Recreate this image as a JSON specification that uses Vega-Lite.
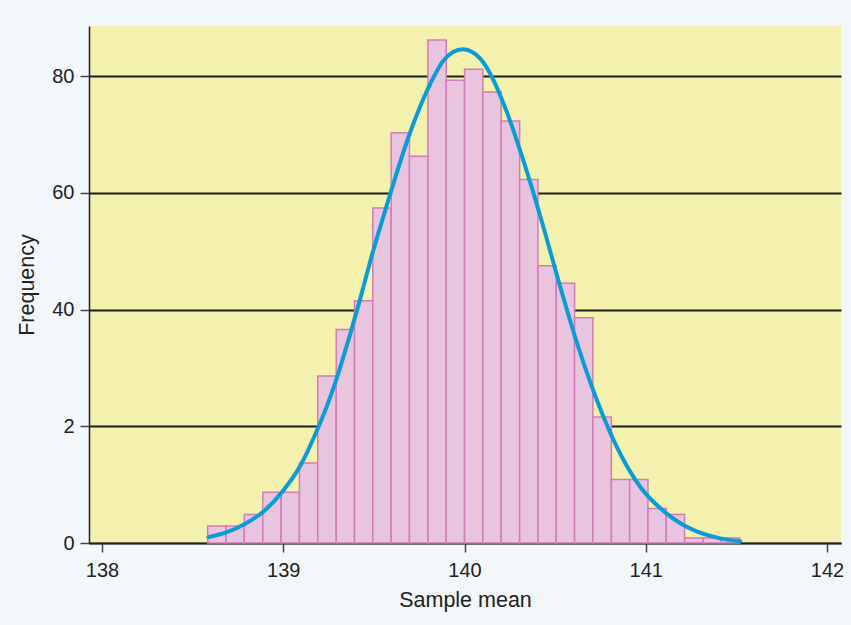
{
  "$schema": "https://vega.github.io/schema/vega-lite/v6.json",
  "autosize": "none",
  "width": 752,
  "height": 517,
  "padding": {"left": 89, "top": 26, "right": 10, "bottom": 82},
  "background": "#f2f7fc",
  "config": {
    "view": {"fill": "#f3f1ad", "stroke": null},
    "font": "Liberation Sans",
    "axis": {
      "labelFont": "Liberation Sans",
      "titleFont": "Liberation Sans",
      "labelFontSize": 20,
      "titleFontSize": 21.5,
      "titleFontWeight": "normal",
      "labelColor": "#222222",
      "titleColor": "#222222",
      "domainColor": "#222222",
      "domainWidth": 1.5,
      "tickColor": "#444444",
      "tickWidth": 1.5,
      "tickSize": 9
    }
  },
  "datasets": {
    "bins": [
      {"x0": 138.583, "x1": 138.684, "count": 2.9},
      {"x0": 138.684, "x1": 138.785, "count": 2.9},
      {"x0": 138.785, "x1": 138.887, "count": 4.9},
      {"x0": 138.887, "x1": 138.988, "count": 8.7},
      {"x0": 138.988, "x1": 139.089, "count": 8.7},
      {"x0": 139.089, "x1": 139.190, "count": 13.7},
      {"x0": 139.190, "x1": 139.292, "count": 28.6},
      {"x0": 139.292, "x1": 139.393, "count": 36.6},
      {"x0": 139.393, "x1": 139.494, "count": 41.5},
      {"x0": 139.494, "x1": 139.595, "count": 57.4},
      {"x0": 139.595, "x1": 139.696, "count": 70.3},
      {"x0": 139.696, "x1": 139.798, "count": 66.3},
      {"x0": 139.798, "x1": 139.899, "count": 86.2},
      {"x0": 139.899, "x1": 140.000, "count": 79.3},
      {"x0": 140.000, "x1": 140.101, "count": 81.2},
      {"x0": 140.101, "x1": 140.202, "count": 77.3},
      {"x0": 140.202, "x1": 140.304, "count": 72.3},
      {"x0": 140.304, "x1": 140.405, "count": 62.3},
      {"x0": 140.405, "x1": 140.506, "count": 47.5},
      {"x0": 140.506, "x1": 140.607, "count": 44.5},
      {"x0": 140.607, "x1": 140.708, "count": 38.6},
      {"x0": 140.708, "x1": 140.810, "count": 21.6},
      {"x0": 140.810, "x1": 140.911, "count": 10.9},
      {"x0": 140.911, "x1": 141.012, "count": 10.9},
      {"x0": 141.012, "x1": 141.113, "count": 5.9},
      {"x0": 141.113, "x1": 141.214, "count": 4.9},
      {"x0": 141.214, "x1": 141.316, "count": 0.86},
      {"x0": 141.316, "x1": 141.417, "count": 0.86},
      {"x0": 141.417, "x1": 141.518, "count": 0.86}
    ],
    "curve": [
      {"mean": 138.587, "freq": 1.0},
      {"mean": 138.689, "freq": 1.85},
      {"mean": 138.790, "freq": 3.3},
      {"mean": 138.891, "freq": 5.4},
      {"mean": 138.992, "freq": 8.7},
      {"mean": 139.093, "freq": 13.2},
      {"mean": 139.176, "freq": 18.6},
      {"mean": 139.241, "freq": 23.5},
      {"mean": 139.286, "freq": 27.4},
      {"mean": 139.369, "freq": 35.8},
      {"mean": 139.424, "freq": 41.8},
      {"mean": 139.479, "freq": 48.2},
      {"mean": 139.581, "freq": 58.9},
      {"mean": 139.700, "freq": 70.4},
      {"mean": 139.811, "freq": 78.7},
      {"mean": 139.884, "freq": 82.7},
      {"mean": 139.989, "freq": 84.6},
      {"mean": 140.087, "freq": 83.0},
      {"mean": 140.160, "freq": 79.3},
      {"mean": 140.234, "freq": 73.8},
      {"mean": 140.330, "freq": 65.0},
      {"mean": 140.418, "freq": 56.0},
      {"mean": 140.528, "freq": 43.9},
      {"mean": 140.620, "freq": 34.3},
      {"mean": 140.700, "freq": 27.0},
      {"mean": 140.767, "freq": 21.6},
      {"mean": 140.859, "freq": 15.3},
      {"mean": 140.970, "freq": 9.6},
      {"mean": 141.117, "freq": 5.0},
      {"mean": 141.264, "freq": 2.2},
      {"mean": 141.411, "freq": 0.8},
      {"mean": 141.521, "freq": 0.3}
    ]
  },
  "layer": [
    {
      "data": {"name": "bins"},
      "mark": {"type": "rect", "fill": "#e9c4de", "stroke": "#d27db7", "strokeWidth": 1.5},
      "encoding": {
        "x": {
          "field": "x0",
          "type": "quantitative",
          "scale": {"domain": [137.928, 142.077], "nice": false, "zero": false},
          "axis": {
            "title": "Sample mean",
            "values": [138, 139, 140, 141, 142],
            "format": "d",
            "grid": false,
            "labelPadding": 8,
            "titlePadding": 9
          }
        },
        "x2": {"field": "x1"},
        "y": {
          "field": "count",
          "type": "quantitative",
          "scale": {"domain": [0, 88.6], "nice": false},
          "axis": {
            "title": "Frequency",
            "values": [0, 20, 40, 60, 80],
            "labelExpr": "datum.value == 20 ? '2' : datum.label",
            "grid": true,
            "gridColor": "#1e1e1e",
            "gridWidth": 2,
            "gridOpacity": 1,
            "labelPadding": 6,
            "titlePadding": 13
          }
        },
        "y2": {"datum": 0}
      }
    },
    {
      "data": {"name": "curve"},
      "mark": {"type": "line", "color": "#0b9bd7", "strokeWidth": 4, "interpolate": "monotone", "strokeCap": "round"},
      "encoding": {
        "x": {"field": "mean", "type": "quantitative"},
        "y": {"field": "freq", "type": "quantitative"}
      }
    }
  ]
}
